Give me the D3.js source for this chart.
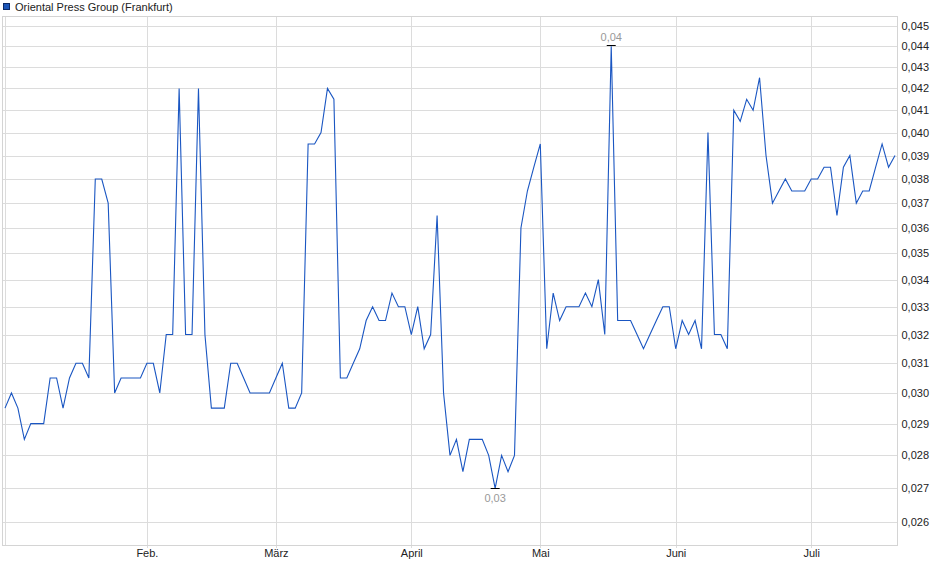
<!DOCTYPE html>
<html>
<head>
<meta charset="utf-8">
<script src="https://cdn.jsdelivr.net/npm/d3@7"></script>
<style>
  body { margin: 0; background: #fff; }
  svg { display: block; font-family: Arial, "Liberation Sans", sans-serif; }
  .grid line { stroke: #dcdcdc; stroke-width: 1; shape-rendering: crispEdges; }
  .axisText { font-size: 11px; fill: #222; }
</style>
</head>
<body>
<div id="chart"></div>
<script>
// Oriental Press Group (Frankfurt), daily closes, one entry per trading day
const seriesName = 'Oriental Press Group (Frankfurt)';

const prices = [
  0.0295, 0.030, 0.0295, 0.0285, 0.029, 0.029, 0.029, 0.0305, 0.0305, 0.0295,
  0.0305, 0.031, 0.031, 0.0305, 0.038, 0.038, 0.037, 0.030, 0.0305, 0.0305,
  0.0305, 0.0305, 0.031, 0.031, 0.030, 0.032, 0.032, 0.042, 0.032, 0.032,
  0.042, 0.032, 0.0295, 0.0295, 0.0295, 0.031, 0.031, 0.0305, 0.030, 0.030,
  0.030, 0.030, 0.0305, 0.031, 0.0295, 0.0295, 0.030, 0.0395, 0.0395, 0.040,
  0.042, 0.0415, 0.0305, 0.0305, 0.031, 0.0315, 0.0325, 0.033, 0.0325, 0.0325,
  0.0335, 0.033, 0.033, 0.032, 0.033, 0.0315, 0.032, 0.0365, 0.030, 0.028,
  0.0285, 0.0275, 0.0285, 0.0285, 0.0285, 0.028, 0.027, 0.028, 0.0275, 0.028,
  0.036, 0.0375, 0.0385, 0.0395, 0.0315, 0.0335, 0.0325, 0.033, 0.033, 0.033,
  0.0335, 0.033, 0.034, 0.032, 0.044, 0.0325, 0.0325, 0.0325, 0.032, 0.0315,
  0.032, 0.0325, 0.033, 0.033, 0.0315, 0.0325, 0.032, 0.0325, 0.0315, 0.040,
  0.032, 0.032, 0.0315, 0.041, 0.0405, 0.0415, 0.041, 0.0425, 0.039, 0.037,
  0.0375, 0.038, 0.0375, 0.0375, 0.0375, 0.038, 0.038, 0.0385, 0.0385, 0.0365,
  0.0385, 0.039, 0.037, 0.0375, 0.0375, 0.0385, 0.0395, 0.0385, 0.039
];

// first trading day of each month (index into prices)
const monthLabels = ['Feb.', 'März', 'April', 'Mai', 'Juni', 'Juli'];
const monthIndex = [22, 42, 63, 83, 104, 125];

const yTicks = [
  0.026, 0.027, 0.028, 0.029, 0.030, 0.031, 0.032, 0.033, 0.034, 0.035,
  0.036, 0.037, 0.038, 0.039, 0.040, 0.041, 0.042, 0.043, 0.044, 0.045
];
const yDomain = [0.02536, 0.0455];

const width = 940;
const height = 579;
const plot = { left: 2.5, right: 897.5, top: 16, bottom: 545 };

const de = d3.formatLocale({ decimal: ',', thousands: '.', grouping: [3], currency: ['', ' €'] });
const fmt3 = de.format('.3f');
const fmt2 = de.format('.2f');

const svg = d3.select('#chart').append('svg')
  .attr('width', width)
  .attr('height', height);

const xScale = d3.scaleLinear()
  .domain([0, prices.length - 1])
  .range([5, 895]);

const yScale = d3.scaleLog()
  .domain(yDomain)
  .range([plot.bottom, plot.top]);

// horizontal grid + right labels
const yAxis = d3.axisRight(yScale)
  .tickValues(yTicks)
  .tickFormat(fmt3)
  .tickSizeInner(-(plot.right - plot.left))
  .tickSizeOuter(0)
  .tickPadding(4);

const yG = svg.append('g')
  .attr('class', 'grid')
  .attr('transform', `translate(${plot.right},0)`)
  .call(yAxis);
yG.select('.domain').remove();
yG.selectAll('.tick line').attr('x2', -(plot.right - plot.left)).attr('x1', 0);
yG.selectAll('.tick text').attr('class', 'axisText');

// vertical month grid + labels
const xAxis = d3.axisBottom(xScale)
  .tickValues(monthIndex)
  .tickFormat((d, i) => monthLabels[i])
  .tickSizeInner(-(plot.bottom - plot.top))
  .tickSizeOuter(0)
  .tickPadding(4);

const xG = svg.append('g')
  .attr('class', 'grid')
  .attr('transform', `translate(0,${plot.bottom})`)
  .call(xAxis);
xG.select('.domain').remove();
xG.selectAll('.tick text').attr('class', 'axisText');
xG.selectAll('.tick')
  .append('line')
  .attr('y1', 0)
  .attr('y2', 3);

// first-day line at the left edge
svg.append('g')
  .attr('class', 'grid')
  .append('line')
  .attr('x1', Math.round(xScale(0)) + 0.5)
  .attr('x2', Math.round(xScale(0)) + 0.5)
  .attr('y1', plot.top)
  .attr('y2', plot.bottom);

// plot frame
svg.append('rect')
  .attr('x', plot.left)
  .attr('y', plot.top + 0.5)
  .attr('width', plot.right - plot.left)
  .attr('height', plot.bottom - plot.top)
  .style('fill', 'none')
  .style('stroke', '#d4d4d4')
  .style('shape-rendering', 'crispEdges');

const priceLine = d3.line()
  .x((d, i) => xScale(i))
  .y((d) => yScale(d));

svg.append('path')
  .datum(prices)
  .attr('d', priceLine)
  .style('fill', 'none')
  .style('stroke', '#1a56c2')
  .style('stroke-width', 1.1)
  .style('stroke-linejoin', 'miter');

// high / low markers
const maxVal = d3.max(prices);
const minVal = d3.min(prices);
const maxIdx = prices.indexOf(maxVal);
const minIdx = prices.indexOf(minVal);

const annotationGroup = svg.append('g').attr('class', 'annotationGroup');

annotationGroup.append('line')
  .attr('x1', xScale(maxIdx) - 4.5)
  .attr('x2', xScale(maxIdx) + 4.5)
  .attr('y1', Math.round(yScale(maxVal)) - 0.5)
  .attr('y2', Math.round(yScale(maxVal)) - 0.5)
  .style('stroke', '#000')
  .style('stroke-width', 1);

annotationGroup.append('text')
  .attr('x', xScale(maxIdx))
  .attr('y', yScale(maxVal) - 5.5)
  .attr('text-anchor', 'middle')
  .style('font-size', '11px')
  .style('fill', '#999')
  .text(fmt2(maxVal));

annotationGroup.append('line')
  .attr('x1', xScale(minIdx) - 4.5)
  .attr('x2', xScale(minIdx) + 4.5)
  .attr('y1', Math.round(yScale(minVal)) + 0.5)
  .attr('y2', Math.round(yScale(minVal)) + 0.5)
  .style('stroke', '#000')
  .style('stroke-width', 1);

annotationGroup.append('text')
  .attr('x', xScale(minIdx))
  .attr('y', yScale(minVal) + 14)
  .attr('text-anchor', 'middle')
  .style('font-size', '11px')
  .style('fill', '#999')
  .text(fmt2(minVal));

// legend
svg.append('rect')
  .attr('x', 3.5)
  .attr('y', 3.5)
  .attr('width', 6)
  .attr('height', 6)
  .style('fill', '#1c56b8')
  .style('stroke', '#0d2a66');

svg.append('text')
  .attr('x', 15)
  .attr('y', 10.5)
  .style('font-size', '11px')
  .style('fill', '#222')
  .text(seriesName);
</script>
</body>
</html>
